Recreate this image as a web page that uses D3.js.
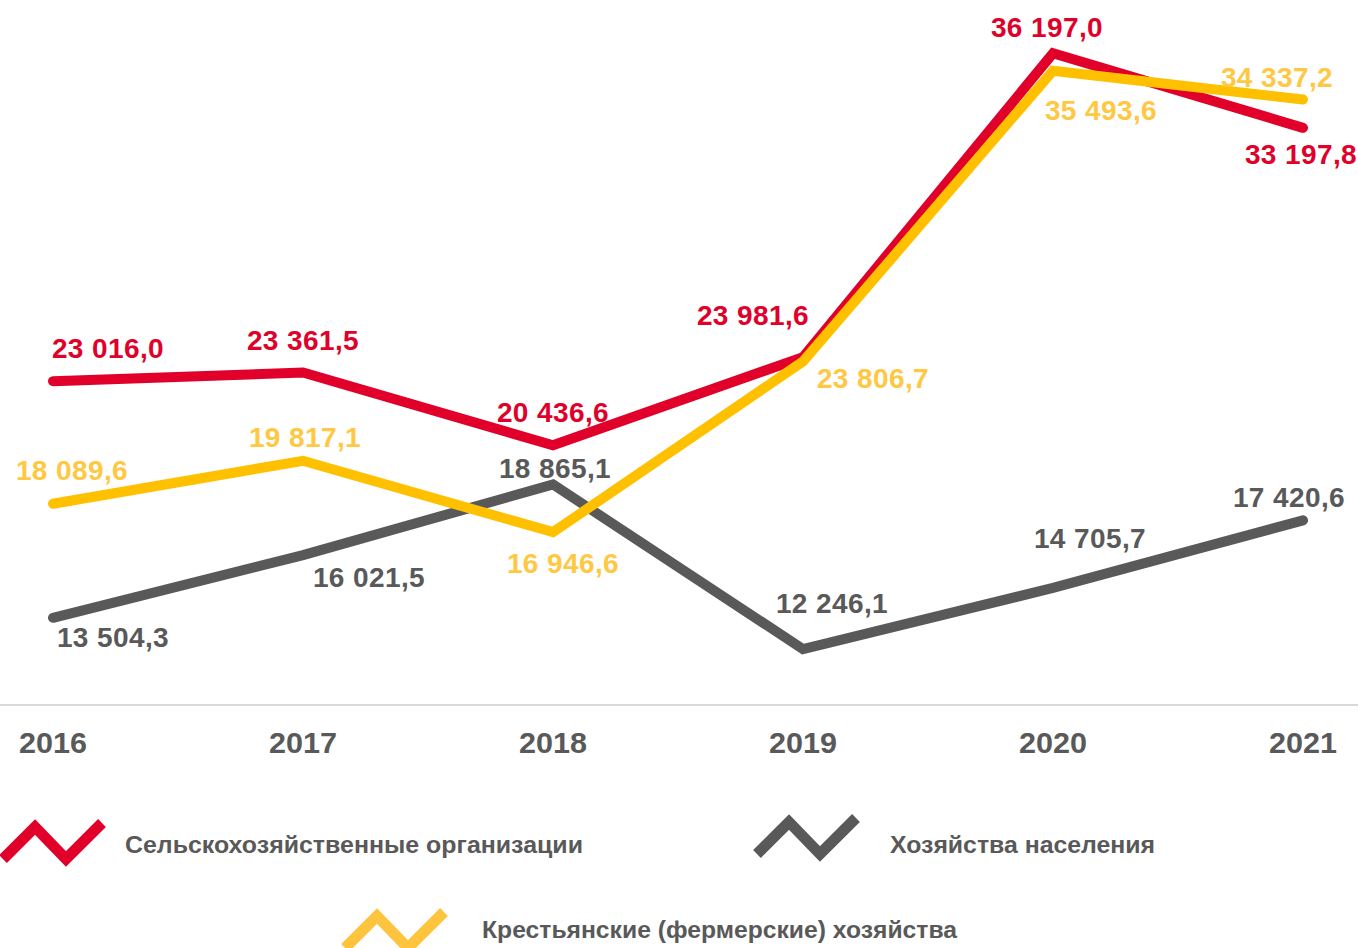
<!DOCTYPE html>
<html>
<head>
<meta charset="utf-8">
<script src="https://cdn.jsdelivr.net/npm/d3@7"></script>
<style>
  body { margin: 0; background: #fff; }
  svg { display: block; font-family: "Liberation Sans", Arial, sans-serif; font-weight: bold; }
</style>
</head>
<body>
<svg id="chart" width="1358" height="948"></svg>
<script>
// data
const years = ['2016', '2017', '2018', '2019', '2020', '2021']
const agriOrgs = [23016.0, 23361.5, 20436.6, 23981.6, 36197.0, 33197.8]
const households = [13504.3, 16021.5, 18865.1, 12246.1, 14705.7, 17420.6]
const farms = [18089.6, 19817.1, 16946.6, 23806.7, 35493.6, 34337.2]
const seriesNames = ['Сельскохозяйственные организации', 'Хозяйства населения', 'Крестьянские (фермерские) хозяйства']

// label placement: [dx, dy] relative to the point (layout only)
const LABEL_OFF = {
  agri:  [[55, -23], [0, -23], [0, -23], [-50, -32], [-6, -16], [-2, 36]],
  house: [[60, 29], [66, 32], [2, -6], [29, -36], [37, -40], [-14, -13]],
  farm:  [[19, -24], [2, -14], [10, 41], [70, 27], [48, 49], [-26, -12]]
}

const RED = '#e0002a', GRAY = '#595959', YELLOW = '#ffc000'

const svg = d3.select('#chart')

const x = d3.scalePoint().domain(years).range([53, 1303])
const y = d3.scaleLinear().domain([10000, 40000]).range([705, -41.4])

// baseline
svg.append('line')
  .attr('x1', 0).attr('x2', 1358).attr('y1', 705).attr('y2', 705)
  .attr('stroke', '#d9d9d9').attr('stroke-width', 2)

// year labels
svg.append('g').selectAll('text').data(years).join('text')
  .attr('x', d => x(d)).attr('y', 753)
  .attr('text-anchor', 'middle')
  .attr('font-size', 29).attr('fill', GRAY)
  .attr('textLength', 68).attr('lengthAdjust', 'spacingAndGlyphs')
  .text(d => d)

const series = [
  { key: 'house', values: households, color: GRAY, labelColor: GRAY },
  { key: 'farm', values: farms, color: YELLOW, labelColor: '#ffc843' },
  { key: 'agri', values: agriOrgs, color: RED, labelColor: RED }
]

const line = d3.line().x((d, i) => x(years[i])).y(d => y(d))
const fmt = v => d3.format(',.1f')(v).replace(/,/g, ' ').replace('.', ',')

// lines: gray, red, yellow (yellow drawn over red)
const drawOrder = [series[0], series[2], series[1]]
svg.append('g').selectAll('path').data(drawOrder).join('path')
  .attr('d', s => line(s.values))
  .attr('fill', 'none')
  .attr('stroke', s => s.color)
  .attr('stroke-width', 10)
  .attr('stroke-linecap', 'round')
  .attr('stroke-linejoin', 'miter')

// value labels
series.forEach(s => {
  svg.append('g').selectAll('text').data(s.values).join('text')
    .attr('x', (d, i) => x(years[i]) + LABEL_OFF[s.key][i][0])
    .attr('y', (d, i) => y(d) + LABEL_OFF[s.key][i][1])
    .attr('text-anchor', 'middle')
    .attr('font-size', 28)
    .attr('letter-spacing', 0.4)
    .attr('fill', s.labelColor)
    .text(d => fmt(d))
})

// legend
const zig = [[0, 36], [32, 4], [63, 36], [99, 0]]
const legend = [
  { name: seriesNames[0], color: RED, x: 3, y: 823, tx: 125, ty: 853, tw: 458 },
  { name: seriesNames[1], color: GRAY, x: 757, y: 818, tx: 890, ty: 853, tw: 265 },
  { name: seriesNames[2], color: '#ffc43d', x: 345, y: 912, tx: 482, ty: 938, tw: 475 }
]
const lg = svg.append('g').selectAll('g').data(legend).join('g')
lg.append('path')
  .attr('d', d => d3.line()(zig.map(p => [d.x + p[0], d.y + p[1]])))
  .attr('fill', 'none').attr('stroke', d => d.color)
  .attr('stroke-width', 11).attr('stroke-linejoin', 'miter')
lg.append('text')
  .attr('x', d => d.tx).attr('y', d => d.ty)
  .attr('font-size', 24).attr('fill', GRAY)
  .attr('textLength', d => d.tw).attr('lengthAdjust', 'spacingAndGlyphs')
  .text(d => d.name)
</script>
</body>
</html>
